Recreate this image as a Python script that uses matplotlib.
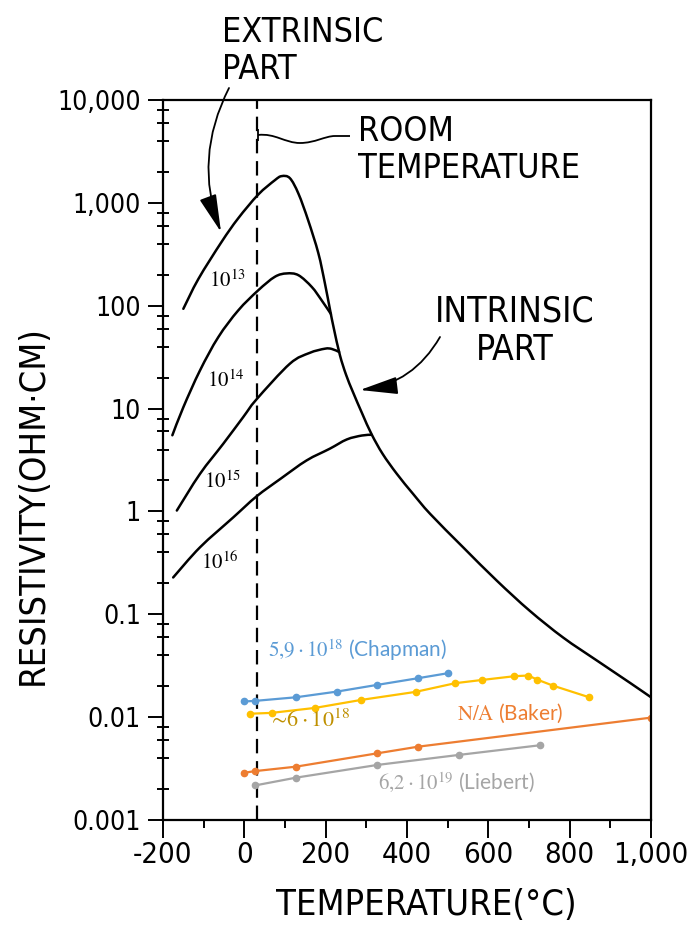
import numpy as np
import matplotlib
matplotlib.use("Agg")
import matplotlib.pyplot as plt
import matplotlib.font_manager as fm
from matplotlib.path import Path
from matplotlib.patches import PathPatch
from matplotlib.ticker import FixedLocator, NullFormatter
import matplotlib.transforms as mtrans

# ---- data ----
# extrinsic curves, labelled by doping (cm^-3)
t_1e13 = [-150, -113, -56, -15, 34, 75, 92, 112, 133, 157, 182, 198, 211]
r_1e13 = [93.3, 182, 417, 708, 1202, 1660, 1820, 1738, 1230, 676, 324, 166, 90.2]

t_1e14 = [-177, -150, -109, -64, -15, 34, 75, 104, 133, 166, 190, 213]
r_1e14 = [5.5, 10.3, 23.5, 49.5, 90, 141, 191, 206, 198, 152, 113, 83]

t_1e15 = [-166, -109, -52, -3, 30, 112, 160, 198, 215, 233]
r_1e15 = [1.02, 2.32, 4.54, 8.24, 12.3, 27.3, 34.7, 38.2, 38.0, 35.5]

t_1e16 = [-175, -109, -27, 30, 90, 153, 210, 252, 289, 313]
r_1e16 = [0.228, 0.448, 0.877, 1.40, 2.09, 3.13, 4.07, 5.01, 5.47, 5.56]

# intrinsic part (continues the 10^13 curve)
t_intr = [211, 220, 235, 250, 267, 290, 313, 340, 375, 415, 457, 538, 621, 702, 784, 867, 948, 1000]
r_intr = [90.2, 60.3, 33.1, 21.4, 14.5, 8.91, 5.62, 3.63, 2.32, 1.48, 0.946, 0.448, 0.212,
          0.108, 0.0594, 0.0355, 0.0216, 0.0156]

# measured series
t_chapman = [0, 27, 127, 227, 327, 427, 502]
r_chapman = [0.0142, 0.0144, 0.0156, 0.0177, 0.0206, 0.0239, 0.0268]

t_yellow = [15, 67, 174, 287, 421, 519, 585, 664, 698, 720, 758, 848]
r_yellow = [0.0108, 0.0110, 0.0123, 0.0147, 0.0176, 0.0214, 0.0230, 0.0250, 0.0254,
            0.0232, 0.0203, 0.0156]

t_baker = [0, 27, 127, 327, 427, 1000]
r_baker = [0.00288, 0.00299, 0.00330, 0.00445, 0.00516, 0.00989]

t_liebert = [27, 127, 327, 527, 727]
r_liebert = [0.00217, 0.00258, 0.00343, 0.00429, 0.00533]

room_temp = 30

xticks = [-200, 0, 200, 400, 600, 800, 1000]
xticklabels = ["-200", "0", "200", "400", "600", "800", "1,000"]
yticks = [0.001, 0.01, 0.1, 1, 10, 100, 1000, 10000]
yticklabels = ["0.001", "0.01", "0.1", "1", "10", "100", "1,000", "10,000"]

BLUE = "#5B9BD5"
YELLOW = "#FFC000"
GOLD = "#BF9000"
ORANGE = "#ED7D31"
GRAY = "#A5A5A5"

W, H = 691, 927


def pick_narrow_font():
    entries = [f for f in fm.fontManager.ttflist
               if f.stretch == "condensed" and f.style == "normal"
               and f.weight in (400, "normal", "regular")]
    for pref in ["Liberation Sans Narrow", "DejaVu Sans", "Roboto", "Open Sans", "Noto Sans"]:
        for f in entries:
            if f.name == pref:
                return f.fname
    if entries:
        return entries[0].fname
    return fm.findfont("DejaVu Sans")


HAND = pick_narrow_font()


def hand(size):
    return fm.FontProperties(fname=HAND, size=size)


def fpx(x, y):
    return x / W, 1 - y / H


def smooth_curve(ax, t, r, **kw):
    # draw a smooth bezier through the read points (in T / log-rho space)
    pts = np.column_stack([np.asarray(t, float), np.log10(r)])
    ext = np.vstack([pts[0], pts, pts[-1]])
    verts = [pts[0]]
    codes = [Path.MOVETO]
    for i in range(len(pts) - 1):
        p0, p1, p2, p3 = ext[i], ext[i + 1], ext[i + 2], ext[i + 3]
        verts += [p1 + (p2 - p0) / 6, p2 - (p3 - p1) / 6, p2]
        codes += [Path.CURVE4] * 3
    v = np.array(verts)
    v[:, 1] = 10 ** v[:, 1]
    ax.add_patch(PathPatch(Path(v, codes), fill=False, transform=ax.transData,
                           capstyle="round", joinstyle="round", **kw))


plt.rcParams["mathtext.fontset"] = "stix"

fig = plt.figure(figsize=(W / 100, H / 100), dpi=100)
ax = fig.add_axes([163 / W, 1 - 820 / H, 488 / W, 720 / H])
ax.set_yscale("log")
ax.set_xlim(-200, 1000)
ax.set_ylim(0.001, 10000)

# black curves
smooth_curve(ax, t_1e13 + t_intr[1:], r_1e13 + r_intr[1:], color="black", lw=1.8)
for t, r in [(t_1e14, r_1e14), (t_1e15, r_1e15), (t_1e16, r_1e16)]:
    smooth_curve(ax, t, r, color="black", lw=1.8)

ax.axvline(room_temp, color="black", lw=1.6, ls=(0, (6.5, 3.5)))

# coloured series
for t, r, c in [(t_chapman, r_chapman, BLUE), (t_yellow, r_yellow, YELLOW),
                (t_baker, r_baker, ORANGE), (t_liebert, r_liebert, GRAY)]:
    ax.plot(t, r, color=c, lw=1.6, marker="o", markersize=4.5)

# axes styling
for s in ax.spines.values():
    s.set_linewidth(1.6)
ax.xaxis.set_major_locator(FixedLocator(xticks))
ax.set_xticklabels(xticklabels)
ax.xaxis.set_minor_locator(FixedLocator(np.arange(-100, 1000, 200)))
ax.yaxis.set_major_locator(FixedLocator(yticks))
ax.set_yticklabels(yticklabels)
minor_y = [m * 10.0 ** e for e in range(-3, 4) for m in (2, 4, 6, 8)]
ax.yaxis.set_minor_locator(FixedLocator(minor_y))
ax.yaxis.set_minor_formatter(NullFormatter())
ax.tick_params(axis="y", which="major", direction="out", length=11, width=1.4, pad=5)
ax.tick_params(axis="y", which="minor", direction="inout", length=8, width=1.4)
ax.tick_params(axis="x", which="major", direction="out", length=13, width=1.4, pad=2)
ax.tick_params(axis="x", which="minor", direction="out", length=6, width=1.4)
for lab in ax.get_yticklabels():
    lab.set_fontproperties(hand(19))
for lab in ax.get_xticklabels():
    lab.set_fontproperties(hand(21))

fig.text(*fpx(426, 905), "TEMPERATURE(°C)", fontproperties=hand(26), ha="center", va="center")
fig.text(*fpx(33, 505), "RESISTIVITY(OHM·CM)", fontproperties=hand(26), ha="center",
         va="center", rotation=90)

# hand-lettered notes
fig.text(*fpx(222, 51), "EXTRINSIC\nPART", fontproperties=hand(24.5), ha="left", va="center",
         linespacing=1.15)
fig.text(*fpx(358, 150), "ROOM\nTEMPERATURE", fontproperties=hand(24.5), ha="left", va="center",
         linespacing=1.15)
fig.text(*fpx(515, 331), "INTRINSIC\nPART", fontproperties=hand(25.5), ha="center", va="center",
         linespacing=1.15)

arrow = dict(arrowstyle="-|>,head_length=1.3,head_width=0.3", color="black", lw=1.3,
             mutation_scale=18, shrinkA=0, shrinkB=0)
ax.annotate("", xy=fpx(221, 232), xycoords="figure fraction", xytext=fpx(229, 88),
            textcoords="figure fraction",
            arrowprops=dict(arrow, connectionstyle="arc3,rad=0.22"), annotation_clip=False)
ax.annotate("", xy=fpx(360, 390), xycoords="figure fraction", xytext=fpx(440, 337),
            textcoords="figure fraction",
            arrowprops=dict(arrow, connectionstyle="arc3,rad=-0.25"), annotation_clip=False)

# wavy connector from the room-temperature line
to_fig = mtrans.Affine2D().scale(1 / W, -1 / H).translate(0, 1) + fig.transFigure
wave = Path([(258, 135), (275, 133), (285, 143), (300, 143), (315, 143), (325, 136), (335, 136),
             (350, 136)],
            [Path.MOVETO, Path.CURVE4, Path.CURVE4, Path.CURVE4, Path.CURVE4, Path.CURVE4,
             Path.CURVE4, Path.LINETO])
fig.patches.append(PathPatch(wave, transform=to_fig, fill=False, lw=1.3, color="black"))
bar = Path([(258, 129), (258, 141)])
fig.patches.append(PathPatch(bar, transform=to_fig, fill=False, lw=1.3, color="black"))

# doping labels
for x, y, s in [(227, 280, r"$10^{13}$"), (226, 380, r"$10^{14}$"),
                (222, 481, r"$10^{15}$"), (220, 562, r"$10^{16}$")]:
    fig.text(*fpx(x, y), s, fontsize=15, ha="center", va="center")

# series labels
fig.text(*fpx(268, 650), r"$5{,}9\cdot10^{18}$ (Chapman)", color=BLUE, fontsize=15,
         family="Lato", ha="left", va="center")
fig.text(*fpx(268, 720), r"$\sim\!6\cdot10^{18}$", color=GOLD, fontsize=16,
         ha="left", va="center")
fig.text(*fpx(457, 713), r"$\mathrm{N/A}$ (Baker)", color=ORANGE, fontsize=15,
         family="Lato", ha="left", va="center")
fig.text(*fpx(378, 782), r"$6{,}2\cdot10^{19}$ (Liebert)", color=GRAY, fontsize=15,
         family="Lato", ha="left", va="center")

fig.savefig("out.png", dpi=100)
